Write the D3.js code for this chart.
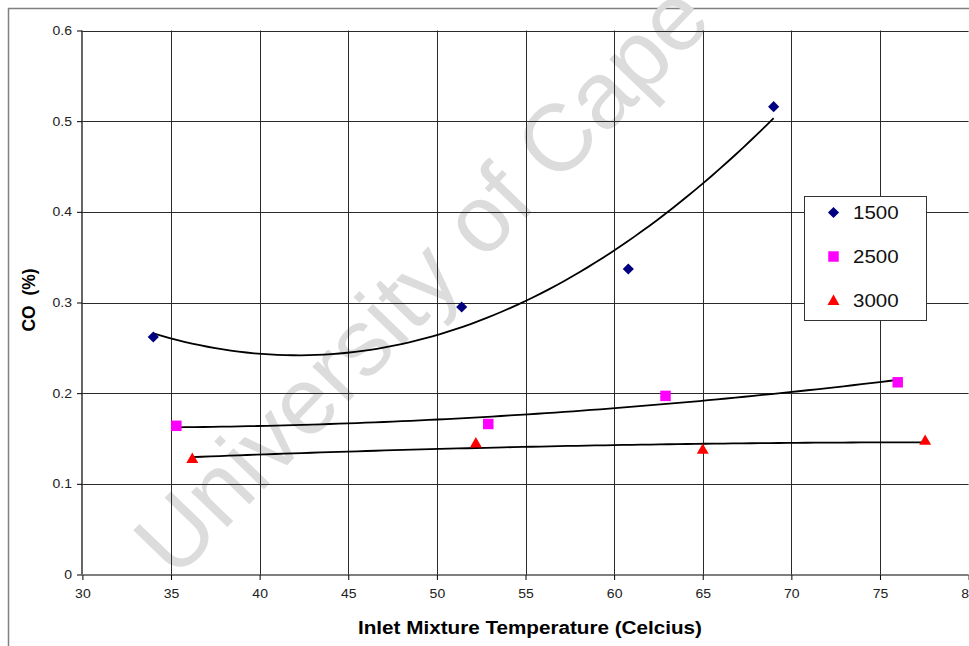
<!DOCTYPE html>
<html>
<head>
<meta charset="utf-8">
<script src="https://cdn.jsdelivr.net/npm/d3@7/dist/d3.min.js"></script>
<style>
  html, body { margin: 0; padding: 0; background: #fff; }
  svg { display: block; font-family: "Liberation Sans", Arial, sans-serif; }
</style>
</head>
<body>
<svg id="chart" width="969" height="646"></svg>
<script>
// Inlet temperature (°C) and CO (%) for each engine speed
const temp1500 = [34.0, 51.4, 60.8, 69.0];
const co1500   = [0.262, 0.295, 0.337, 0.516];
const temp2500 = [35.3, 52.9, 62.9, 76.0];
const co2500   = [0.164, 0.166, 0.197, 0.212];
const temp3000 = [36.2, 52.2, 65.0, 77.55];
const co3000   = [0.128, 0.145, 0.138, 0.148];

const seriesNames = ["1500", "2500", "3000"];
const xTicks = [30, 35, 40, 45, 50, 55, 60, 65, 70, 75, 80];
const yTicks = [0, 0.1, 0.2, 0.3, 0.4, 0.5, 0.6];

const series = [
  { name: seriesNames[0], xs: temp1500, ys: co1500, color: "#000080", shape: "diamond" },
  { name: seriesNames[1], xs: temp2500, ys: co2500, color: "#ff00ff", shape: "square" },
  { name: seriesNames[2], xs: temp3000, ys: co3000, color: "#ff0000", shape: "triangle" }
];

const svg = d3.select("#chart");
const x = d3.scaleLinear().domain([30, 80]).range([82.4, 968.6]);
const y = d3.scaleLinear().domain([0, 0.6]).range([574.5, 30.5]);
const crisp = v => Math.round(v) + 0.5;

// widen horizontal text a little (wide-set chart typography)
function widen(sel, k) {
  sel.each(function () {
    const w = this.getComputedTextLength();
    d3.select(this).attr("textLength", w * k).attr("lengthAdjust", "spacingAndGlyphs");
  });
}

// outer chart frame
svg.append("rect").attr("x", 8.5).attr("y", 8.5).attr("width", 1000).attr("height", 700)
  .attr("fill", "#fff").attr("stroke", "#808080").attr("stroke-width", 1.5);

// watermark
svg.append("text")
  .attr("transform", "translate(421,279) rotate(-46)")
  .attr("text-anchor", "middle").attr("dominant-baseline", "central")
  .attr("font-size", 95).attr("fill", "#dcdcdc")
  .text("University of Cape");

// gridlines
const grid = svg.append("g").attr("stroke", "#2a2a2a").attr("stroke-width", 1);
grid.selectAll("line.v").data(xTicks.slice(1)).join("line")
  .attr("x1", d => crisp(x(d))).attr("x2", d => crisp(x(d)))
  .attr("y1", y(0.6)).attr("y2", y(0));
grid.selectAll("line.h").data(yTicks.slice(1)).join("line")
  .attr("x1", x(30)).attr("x2", x(80))
  .attr("y1", d => crisp(y(d))).attr("y2", d => crisp(y(d)));

// axes
const xAxis = d3.axisBottom(x).tickValues(xTicks).tickSize(5).tickPadding(9).tickFormat(d3.format("d"));
const yAxis = d3.axisLeft(y).tickValues(yTicks).tickSize(5).tickPadding(5).tickFormat(d => d === 0 ? "0" : d3.format(".1f")(d));

const gx = svg.append("g").attr("transform", `translate(0,${crisp(y(0)) - 0.5})`).call(xAxis);
const gy = svg.append("g").attr("transform", `translate(${crisp(x(30)) - 0.5},0)`).call(yAxis);
[gx, gy].forEach(g => {
  g.select(".domain").attr("stroke", "#000").attr("stroke-width", 1.2);
  g.selectAll(".tick line").attr("stroke", "#000");
  g.selectAll(".tick text").attr("fill", "#222").attr("font-size", 12.5)
    .attr("font-family", "'Liberation Sans', Arial, sans-serif");
  widen(g.selectAll(".tick text"), 1.12);
});
gx.select(".domain").attr("d", `M${x(30)},0H${x(80)}`);
gy.select(".domain").attr("d", `M0,${y(0)}V${y(0.6)}`);

// second-order polynomial least-squares trendline
function quadFit(xs, ys) {
  const n = xs.length;
  let s = [0, 0, 0, 0, 0], t = [0, 0, 0];
  for (let i = 0; i < n; i++) {
    let p = 1;
    for (let k = 0; k < 5; k++) { s[k] += p; if (k < 3) t[k] += p * ys[i]; p *= xs[i]; }
  }
  const A = [[s[0], s[1], s[2], t[0]], [s[1], s[2], s[3], t[1]], [s[2], s[3], s[4], t[2]]];
  for (let c = 0; c < 3; c++) {
    for (let r = c + 1; r < 3; r++) {
      const f = A[r][c] / A[c][c];
      for (let k = c; k < 4; k++) A[r][k] -= f * A[c][k];
    }
  }
  const b = [0, 0, 0];
  for (let r = 2; r >= 0; r--) {
    let v = A[r][3];
    for (let k = r + 1; k < 3; k++) v -= A[r][k] * b[k];
    b[r] = v / A[r][r];
  }
  return v => b[0] + b[1] * v + b[2] * v * v;
}

const line = d3.line().x(d => x(d[0])).y(d => y(d[1]));
series.forEach(s => {
  const f = quadFit(s.xs, s.ys);
  const x0 = d3.min(s.xs), x1 = d3.max(s.xs);
  const pts = d3.range(0, 81).map(i => { const v = x0 + (x1 - x0) * i / 80; return [v, f(v)]; });
  svg.append("path").datum(pts).attr("d", line)
    .attr("fill", "none").attr("stroke", "#000").attr("stroke-width", 1.8);
});

// markers
const symbolFor = shape => ({
  diamond: d3.symbol().type(d3.symbolSquare).size(62),
  square: d3.symbol().type(d3.symbolSquare).size(110),
  triangle: d3.symbol().type(d3.symbolTriangle).size(62)
})[shape];
function markerTransform(shape, px, py) {
  if (shape === "diamond") return `translate(${px},${py}) rotate(45)`;
  if (shape === "triangle") return `translate(${px},${py + 1})`;
  return `translate(${px},${py})`;
}
series.forEach(s => {
  svg.append("g").selectAll("path").data(s.xs.map((v, i) => [v, s.ys[i]])).join("path")
    .attr("d", symbolFor(s.shape)())
    .attr("transform", d => markerTransform(s.shape, x(d[0]), y(d[1])))
    .attr("fill", s.color);
});

// legend
const legend = svg.append("g");
legend.append("rect").attr("x", 804.5).attr("y", 196.5).attr("width", 122).attr("height", 124)
  .attr("fill", "#fff").attr("stroke", "#333").attr("stroke-width", 1);
series.forEach((s, i) => {
  const cy = 212.5 + i * 44;
  legend.append("path").attr("d", symbolFor(s.shape)())
    .attr("transform", markerTransform(s.shape, 833.5, cy)).attr("fill", s.color);
  const t = legend.append("text").attr("x", 853).attr("y", cy + 6.5)
    .attr("font-size", 18).attr("fill", "#111").text(s.name);
  widen(t, 1.14);
});

// axis titles
const xt = svg.append("text").attr("x", 530).attr("y", 634).attr("text-anchor", "middle")
  .attr("font-size", 17.5).attr("font-weight", "bold").attr("fill", "#000")
  .text("Inlet Mixture Temperature (Celcius)");
xt.attr("textLength", 344).attr("lengthAdjust", "spacingAndGlyphs");
svg.append("text").attr("transform", "translate(35,300) rotate(-90)")
  .attr("text-anchor", "middle").attr("font-size", 17.5).attr("font-weight", "bold")
  .attr("fill", "#000").style("white-space", "pre").text("CO  (%)");
</script>
</body>
</html>
